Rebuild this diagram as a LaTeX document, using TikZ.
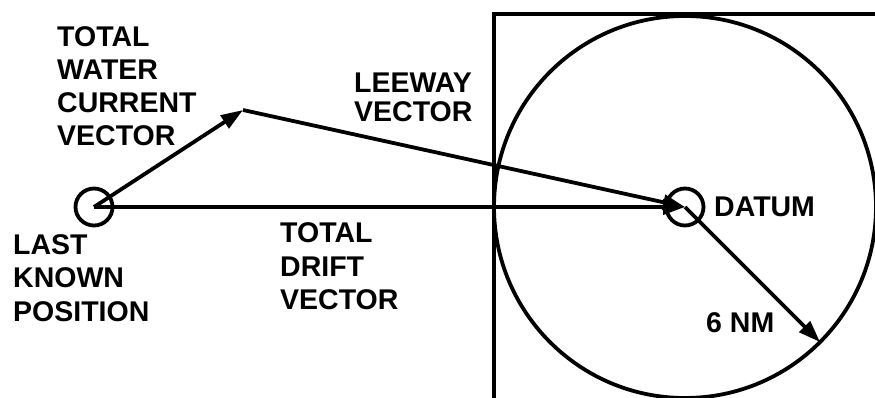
\documentclass[tikz,border=0pt]{standalone}
\usepackage{fontspec}
\setmainfont{Liberation Sans}
\usetikzlibrary{arrows.meta}
\tikzset{
  lbl/.style={anchor=west,inner sep=0pt,font=\bfseries\fontsize{28.5}{33}\selectfont},
  vec/.style={line width=3.8pt,-{Triangle[length=22pt,width=15pt]}},
  ring/.style={circle,draw,line width=3.8pt,minimum size=37pt,inner sep=0pt,outer sep=0pt},
}
\begin{document}
\begin{tikzpicture}[x=1pt,y=-1pt]
\useasboundingbox (0,0) rectangle (875,398);
\clip (0,0) rectangle (875,398);
% search area
\draw[line width=3.8pt] (494,420) -- (494,14) -- (900,14);
\node[circle,draw,line width=3.8pt,minimum size=382pt,inner sep=0pt,outer sep=0pt] (zone) at (685,207) {};
% points
\node[ring] (lkp) at (94,207) {};
\node[ring] (dat) at (685,207) {};
\coordinate (wc) at (243,110);
\coordinate (rim) at (zone.-45);
% vectors
\draw[vec] (lkp.center) -- (wc);
\draw[vec] (wc) -- (dat.center);
\draw[vec] (lkp.center) -- (dat.center);
\draw[vec] (dat.center) -- (rim);
% labels
\node[lbl] (t1) at (57,37) {TOTAL};
\node[lbl] (t2) at (57,70) {WATER};
\node[lbl] (t3) at (57,103) {CURRENT};
\node[lbl] (t4) at (57,136) {VECTOR};
\node[lbl] (l1) at (354,83) {LEEWAY};
\node[lbl] (l2) at (354,112) {VECTOR};
\node[lbl] (k1) at (13,245) {LAST};
\node[lbl] (k2) at (13,278) {KNOWN};
\node[lbl] (k3) at (13,312) {POSITION};
\node[lbl] (d1) at (280,233) {TOTAL};
\node[lbl] (d2) at (280,267) {DRIFT};
\node[lbl] (d3) at (280,300) {VECTOR};
\node[lbl] (dl) at (714,207) {DATUM};
\node[lbl] (nm) at (706,323) {6 NM};
\end{tikzpicture}
\end{document}
